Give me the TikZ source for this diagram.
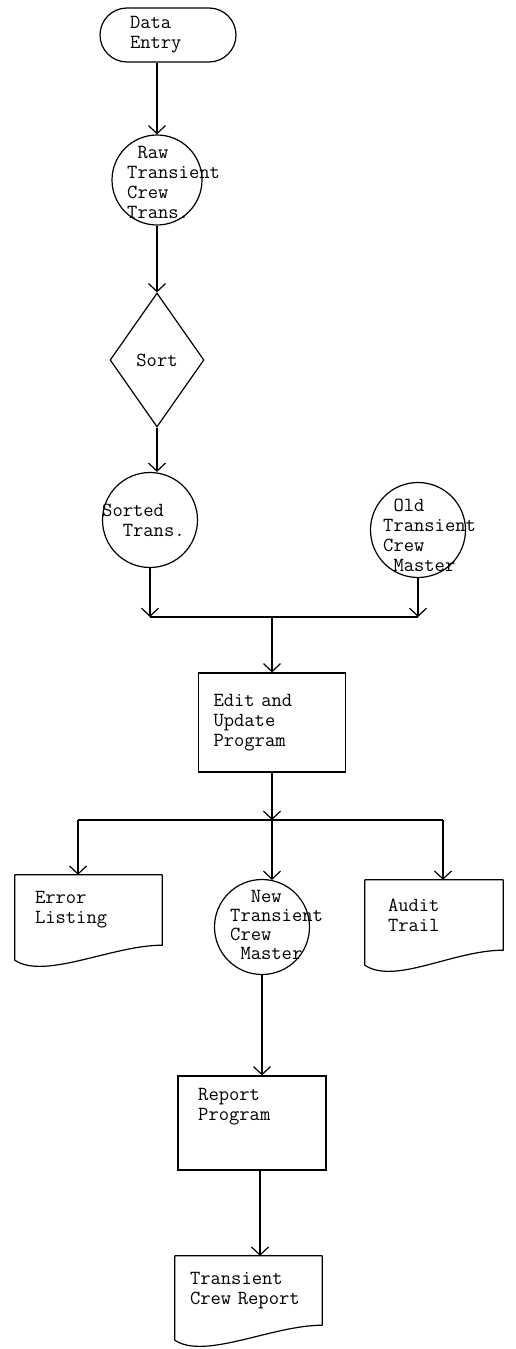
\documentclass[tikz,border=0pt]{standalone}
\usepackage{fontspec}
\usetikzlibrary{shapes.geometric,arrows.meta}

\tikzset{
  tt/.style={font=\ttfamily\fontsize{20}{20}\selectfont},
  txt/.style={tt, align=left, anchor=west, inner sep=0pt},
  term/.style={tt, draw, line width=1.2pt, rounded corners=27pt, align=left, minimum height=54pt},
  proc/.style={tt, draw, line width=1.2pt, align=left},
  store/.style={draw, circle, line width=1.2pt, inner sep=0pt},
  decide/.style={tt, draw, diamond, line width=1.2pt, inner sep=0pt, minimum width=94pt, minimum height=134pt},
  doc/.style={tt, align=left},
  line/.style={line width=1.2pt},
  flow/.style={line width=1.2pt, -{Straight Barb[length=8pt,width=17pt]}}
}

% document outline with a wavy lower edge
\newcommand{\paperedge}[1]{%
  \draw[line width=1.2pt, line join=round] (#1.north west) -- (#1.north east) -- (#1.south east)
    .. controls ([xshift=-50pt]#1.south east) and ([xshift=30pt,yshift=-35pt]#1.south west)
    .. ([yshift=-15pt]#1.south west) -- cycle;}

\begin{document}
\begin{tikzpicture}[x=1pt,y=-1pt]
  \useasboundingbox (0,0) rectangle (516,1349);

  \node[term, text width=76pt, inner xsep=30pt] (entry) at (168,35) {Data\\Entry};

  \node[store, minimum size=90pt] (raw) at (157,180) {};
  \node[txt] (rawtxt) at (127,182) {\hphantom{T}Raw\\Transient\\Crew\\Trans.};

  \node[decide] (sort) at (157,360) {Sort};

  \node[store, minimum size=95pt] (sorted) at (150,520) {};
  \node[txt] (sortedtxt) at (102,520) {Sorted\\\hphantom{Tr}Trans.};

  \node[store, minimum size=95pt] (old) at (418,530) {};
  \node[txt] (oldtxt) at (383,535) {\hphantom{T}Old\\Transient\\Crew\\\hphantom{T}Master};

  \coordinate (ml) at (150,617);
  \coordinate (mm) at (272,617);
  \coordinate (mr) at (418,617);

  \node[proc, text width=117pt, inner xsep=15pt, minimum height=99pt] (edit) at (272,722.5) {Edit and\\Update\\Program};

  \coordinate (jl) at (78,820);
  \coordinate (jm) at (272,820);
  \coordinate (jr) at (443,820);

  \node[doc, text width=107pt, inner xsep=20pt, minimum height=70pt] (err) at (88.5,910) {Error\\Listing};
  \node[doc, text width=92pt, inner xsep=23pt, minimum height=70pt] (audit) at (434,915) {Audit\\Trail};
  \paperedge{err}
  \paperedge{audit}

  \node[store, minimum size=95pt] (new) at (262,927) {};
  \node[txt, font=\ttfamily\fontsize{20}{19}\selectfont] (newtxt) at (230,925) {\hphantom{Tr}New\\Transient\\Crew\\\hphantom{T}Master};

  \node[proc, minimum width=148pt, minimum height=94pt] (report) at (252,1123) {};
  \node[txt] (reporttxt) at (198,1107) {Report\\Program};

  \node[doc, text width=117pt, inner xsep=15pt, minimum height=69pt] (repdoc) at (248.5,1290.5) {Transient\\Crew Report};
  \paperedge{repdoc}

  % connectors
  \draw[flow] (raw |- entry.south) -- (raw.north);
  \draw[flow] (raw.south) -- (sort.north);
  \draw[flow] (sort.south) -- (sort.south |- sorted.north);
  \draw[flow] (sorted.south) -- (ml);
  \draw[flow] (old.south) -- (mr);
  \draw[line] (ml) -- (mr);
  \draw[flow] (mm) -- (edit.north);
  \draw[flow] (edit.south) -- (jm);
  \draw[line] (jl) -- (jr);
  \draw[flow] (jl) -- (jl |- err.north);
  \draw[flow] (jm) -- (jm |- new.78);
  \draw[flow] (jr) -- (jr |- audit.north);
  \draw[flow] (new.south) -- (new.south |- report.north);
  \draw[flow] ([xshift=8pt]report.south) -- ([xshift=8pt]report.south |- repdoc.north);
\end{tikzpicture}
\end{document}
